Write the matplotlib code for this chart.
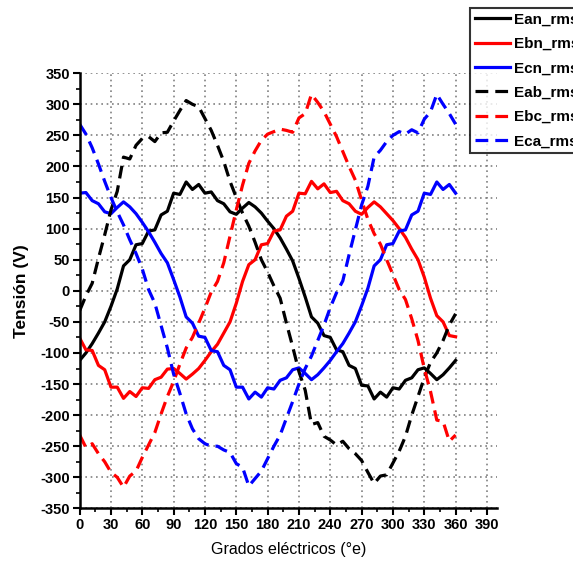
import matplotlib
matplotlib.use("Agg")
import matplotlib.pyplot as plt
from matplotlib.ticker import MultipleLocator

plt.rcParams['font.family'] = ['Liberation Sans', 'DejaVu Sans']
plt.rcParams['axes.unicode_minus'] = False

# Electrical angle (degrees), sampled every 6 degrees
grados = list(range(0, 361, 6))

# Phase voltages (V)
ean = [-112, -100, -85, -68, -50, -25, 3, 40, 50, 74, 76, 96, 98, 122, 128, 157,
       155, 175, 163, 171, 157, 159, 145, 140, 127, 123, 133, 142, 135, 125, 112,
       100, 85, 67, 48, 20, -10, -42, -52, -72, -75, -95, -98, -120, -125, -152,
       -153, -174, -163, -171, -156, -158, -144, -140, -127, -124, -133, -143,
       -135, -124, -112]
ebn = [-76, -95, -96, -120, -127, -155, -155, -173, -162, -170, -156, -157, -143,
       -139, -126, -125, -133, -142, -134, -125, -112, -98, -86, -68, -50, -20,
       15, 42, 50, 74, 76, 96, 98, 120, 128, 157, 156, 176, 164, 172, 158, 160,
       145, 140, 128, 123, 134, 143, 135, 124, 113, 100, 86, 67, 50, 22, -12,
       -40, -50, -72, -74]
ecn = [157, 158, 145, 140, 127, 124, 134, 143, 135, 124, 110, 95, 78, 60, 45, 18,
       -10, -42, -52, -73, -75, -96, -98, -120, -127, -155, -155, -174, -163,
       -171, -156, -158, -144, -140, -127, -124, -133, -143, -135, -124, -112,
       -98, -85, -68, -50, -24, 4, 40, 50, 74, 76, 96, 98, 122, 128, 157, 155,
       175, 163, 171, 157]

# Line voltages (V)
eab = [-32, -8, 12, 52, 90, 130, 160, 215, 212, 234, 245, 248, 240, 254, 255, 273,
       290, 306, 300, 296, 277, 258, 234, 208, 176, 150, 125, 104, 78, 50, 30,
       8, -12, -52, -90, -130, -160, -215, -212, -234, -240, -248, -242, -254,
       -262, -273, -292, -310, -298, -296, -277, -258, -234, -200, -170, -140,
       -115, -100, -80, -55, -37]
ebc = [-232, -252, -246, -262, -275, -292, -300, -316, -298, -290, -268, -248,
       -228, -198, -170, -146, -118, -92, -75, -52, -28, -2, 15, 45, 88, 130,
       170, 205, 225, 242, 252, 256, 260, 258, 255, 278, 285, 316, 303, 288,
       268, 248, 224, 200, 178, 146, 115, 92, 75, 50, 26, 2, -14, -45, -80,
       -125, -162, -208, -210, -242, -232]
eca = [268, 252, 230, 204, 176, 150, 127, 106, 82, 60, 35, 2, -20, -56, -92, -134,
       -165, -198, -222, -238, -246, -250, -250, -256, -260, -278, -284, -314,
       -302, -290, -270, -250, -232, -205, -178, -150, -125, -105, -80, -55,
       -27, -3, 16, 58, 98, 138, 168, 215, 226, 240, 250, 256, 252, 259, 254,
       276, 288, 316, 300, 285, 268]

series = [
    ("Ean_rms", ean, "black", "-"),
    ("Ebn_rms", ebn, "#ff0000", "-"),
    ("Ecn_rms", ecn, "#0000ff", "-"),
    ("Eab_rms", eab, "black", (0, (4, 2.2))),
    ("Ebc_rms", ebc, "#ff0000", (0, (4, 2.2))),
    ("Eca_rms", eca, "#0000ff", (0, (4, 2.2))),
]

fig = plt.figure(figsize=(5.73, 5.63), dpi=100)
ax = fig.add_axes([0.139, 0.097, 0.729, 0.773])

for name, vals, color, ls in series:
    ax.plot(grados, vals, color=color, linestyle=ls, linewidth=2.3, label=name)

ax.set_xlim(0, 400)
ax.set_ylim(-350, 350)
ax.xaxis.set_major_locator(MultipleLocator(30))
ax.xaxis.set_minor_locator(MultipleLocator(15))
ax.yaxis.set_major_locator(MultipleLocator(50))
ax.yaxis.set_minor_locator(MultipleLocator(25))

ax.grid(True, which='major', color='#808080', linestyle=(0, (1, 2.2)), linewidth=1.2)
ax.set_axisbelow(True)

for side in ('top', 'right'):
    ax.spines[side].set_visible(False)
for side in ('left', 'bottom'):
    ax.spines[side].set_linewidth(1.8)

ax.tick_params(which='major', direction='out', length=5, width=1.5,
               labelsize=10.5, pad=2)
ax.tick_params(which='minor', direction='out', length=3, width=1.2)
for lbl in ax.get_xticklabels() + ax.get_yticklabels():
    lbl.set_fontweight('bold')

ax.set_xlabel("Grados eléctricos (°e)", fontsize=11.5, labelpad=7)
ax.set_ylabel("Tensión (V)", fontsize=12.5, fontweight='bold', labelpad=8)

leg = fig.legend(loc='upper left', bbox_to_anchor=(470 / 573, 1 - 8 / 563),
                 bbox_transform=fig.transFigure, frameon=True, fancybox=False,
                 handlelength=2.35, handletextpad=0.2, labelspacing=0.68,
                 borderpad=0.3, borderaxespad=0,
                 prop={'size': 11, 'weight': 'bold'})
leg.get_frame().set_edgecolor('black')
leg.get_frame().set_linewidth(1.5)

fig.savefig("out.png", dpi=100)
